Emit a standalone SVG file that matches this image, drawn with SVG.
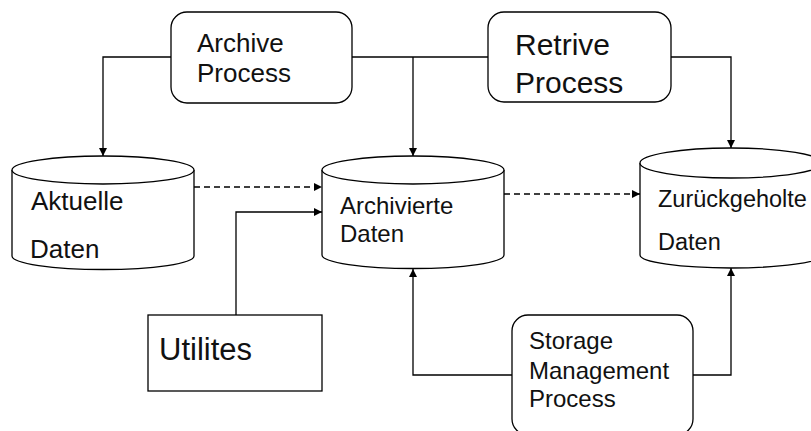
<svg xmlns="http://www.w3.org/2000/svg" width="811" height="431" viewBox="0 0 811 431">
<defs>
<marker id="ah" viewBox="0 0 10 10" refX="10" refY="5" markerWidth="8" markerHeight="8" markerUnits="userSpaceOnUse" orient="auto">
<path d="M0,0 L10,5 L0,10 z" fill="#000"/>
</marker>
<style>
.box{fill:#fff;stroke:#000;stroke-width:1.3}
.cyl{fill:#fff;stroke:#000;stroke-width:1.3}
.ln{fill:none;stroke:#000;stroke-width:1.3}
.arr{fill:none;stroke:#000;stroke-width:1.3;marker-end:url(#ah)}
.dash{stroke-dasharray:6 4}
text{font-family:"Liberation Sans",Arial,sans-serif;fill:#111}
</style>
</defs>
<rect width="811" height="431" fill="#fff"/>
<g id="connectors">
<path class="arr" d="M171,57 H103 V156"/>
<path class="ln" d="M352,57 H488"/>
<path class="arr" d="M413,57 V156"/>
<path class="arr" d="M671,57 H731 V148"/>
<path class="arr dash" d="M194,187 H322"/>
<path class="arr dash" d="M504,194 H640"/>
<path class="arr" d="M236,315 V212 H322"/>
<path class="arr" d="M512,375 H413 V269"/>
<path class="arr" d="M693,375 H731 V268"/>
</g>
<g id="archive-process">
<rect class="box" x="171" y="12" width="181" height="91" rx="16" ry="16"/>
<text x="197" y="52" font-size="26">Archive</text>
<text x="197" y="82" font-size="26">Process</text>
</g>
<g id="retrive-process">
<rect class="box" x="488" y="12" width="183" height="90" rx="16" ry="16"/>
<text x="515" y="55" font-size="30">Retrive</text>
<text x="515" y="93" font-size="30">Process</text>
</g>
<g id="aktuelle-daten">
<path class="cyl" d="M12,170 V256 A91,13.5 0 0 0 194,256 V170"/>
<ellipse class="cyl" cx="103" cy="170" rx="91" ry="14"/>
<text x="31" y="210" font-size="26">Aktuelle</text>
<text x="30" y="258" font-size="26">Daten</text>
</g>
<g id="archivierte-daten">
<path class="cyl" d="M322,170 V255 A91,13.5 0 0 0 504,255 V170"/>
<ellipse class="cyl" cx="413" cy="170" rx="91" ry="14"/>
<text x="340" y="214" font-size="24">Archivierte</text>
<text x="340" y="242" font-size="24">Daten</text>
</g>
<g id="zurueckgeholte-daten">
<path class="cyl" d="M640,163 V255 A91,13 0 0 0 822,255 V163"/>
<ellipse class="cyl" cx="731" cy="163" rx="91" ry="15"/>
<text x="658" y="207" font-size="23.5">Zurückgeholte</text>
<text x="658" y="250" font-size="23.5">Daten</text>
</g>
<g id="utilites">
<rect class="box" x="148" y="315" width="174" height="76"/>
<text x="159" y="360" font-size="31">Utilites</text>
</g>
<g id="storage-management-process">
<rect class="box" x="512" y="315" width="181" height="120" rx="16" ry="16"/>
<text x="529" y="349" font-size="24">Storage</text>
<text x="529" y="379" font-size="24">Management</text>
<text x="529" y="407" font-size="24">Process</text>
</g>
</svg>
